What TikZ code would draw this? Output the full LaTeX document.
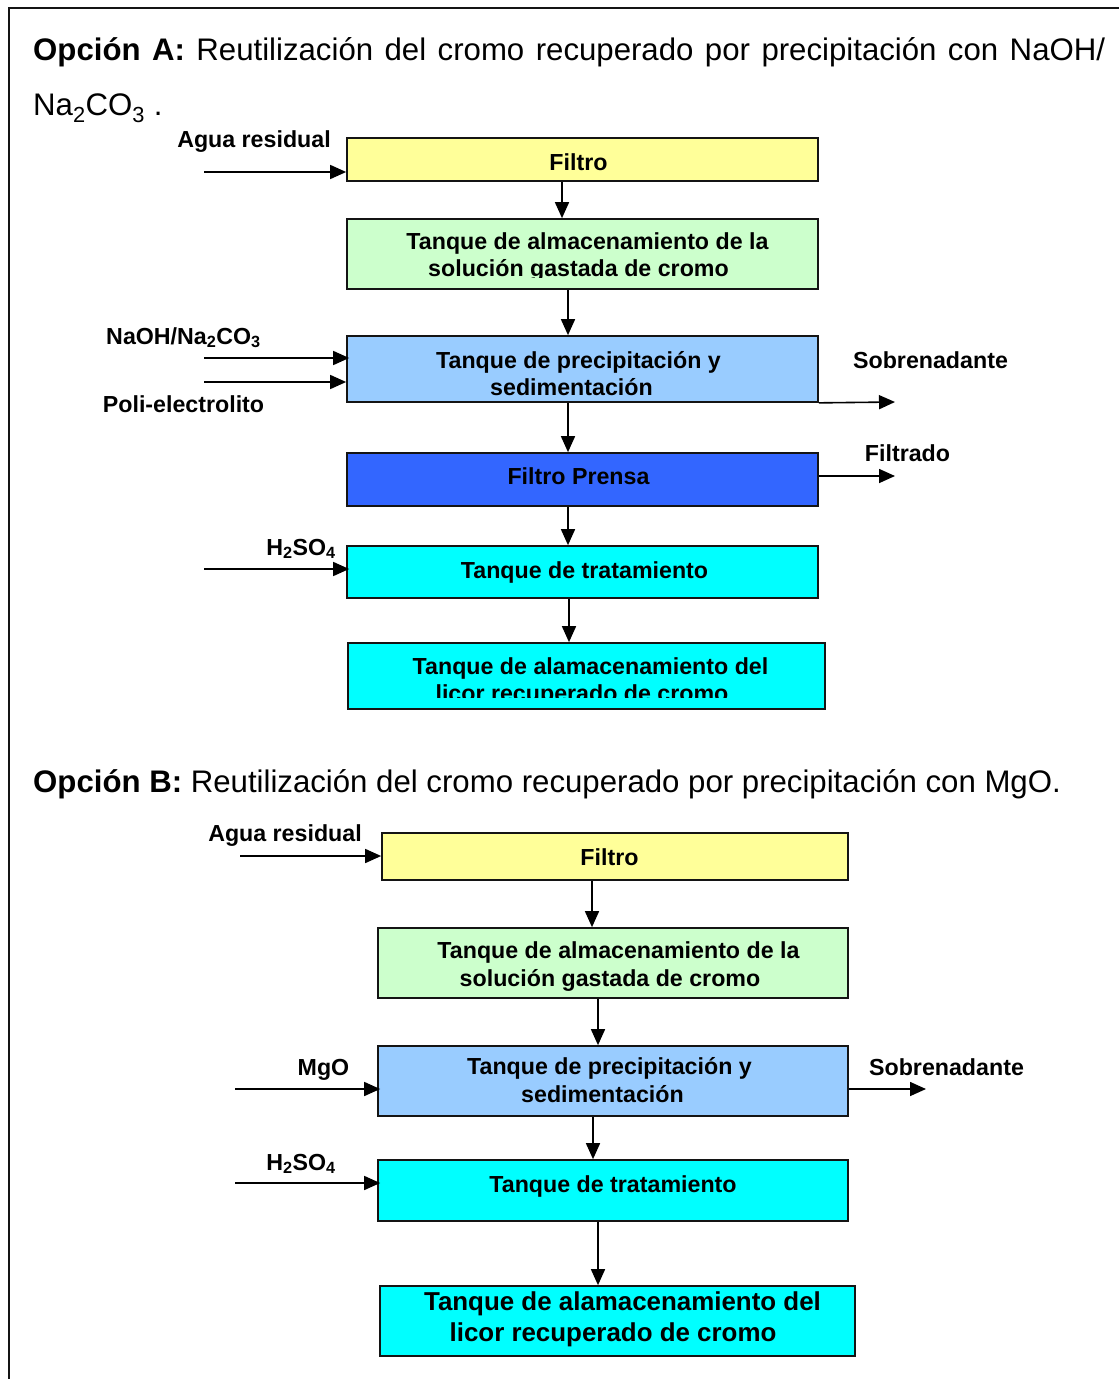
\documentclass[tikz,border=0pt]{standalone}
\usepackage{fontspec}
\setmainfont{Liberation Sans}
\usetikzlibrary{arrows.meta}

\definecolor{cYel}{HTML}{FFFF99}
\definecolor{cGrn}{HTML}{CCFFCC}
\definecolor{cSky}{HTML}{99CCFF}
\definecolor{cBlu}{HTML}{3366FF}
\definecolor{cCya}{HTML}{00FFFF}
\definecolor{cLine}{HTML}{141414}

\tikzset{
  box/.style={draw=cLine, line width=1.7bp, inner sep=0pt},
  lbl/.style={inner sep=0pt, anchor=base, font=\fontsize{23.3}{27}\selectfont\bfseries},
  big/.style={inner sep=0pt, anchor=base, font=\fontsize{26}{31}\selectfont\bfseries},
  ttl/.style={inner sep=0pt, anchor=base west, font=\fontsize{31.3}{38}\selectfont},
  arr/.style={draw=black, line width=1.6bp, -{Triangle[length=16bp,width=14bp]}},
}

\begin{document}
\begin{tikzpicture}[x=1bp,y=-1bp]
\useasboundingbox (0,0) rectangle (1119,1379);

% frame (top and left sides)
\draw[line width=2bp, cLine] (8.5,1379) -- (8.5,8.5) -- (1119,8.5);

% ---------------- Option A ----------------
\node[ttl] (tA1) at (33,61) {\hbox to 1072bp{\textbf{Opción A:} Reutilización del cromo recuperado por precipitación con NaOH/}};
\node[ttl] (tA2) at (33,116) {Na\textsubscript{2}CO\textsubscript{3} .};

\node[box, fill=cYel, minimum width=471bp, minimum height=43bp] (a1) at (582.5,159.5) {};
\node[lbl] (a1t) at (578.5,171) {Filtro};

\node[box, fill=cGrn, minimum width=471bp, minimum height=70bp] (a2) at (582.5,254) {};
\begin{scope}
  \clip (348,220) rectangle (817,277.5);
  \node[lbl] (a2t1) at (587.5,250) {Tanque de almacenamiento de la};
  \node[lbl] (a2t2) at (578.5,276.5) {solución gastada de cromo};
\end{scope}

\node[box, fill=cSky, minimum width=471bp, minimum height=66bp] (a3) at (582.5,369) {};
\node[lbl] (a3t1) at (578.5,368) {Tanque de precipitación y};
\node[lbl] (a3t2) at (571.5,395) {sedimentación};

\node[box, fill=cBlu, minimum width=471bp, minimum height=53bp] (a4) at (582.5,479.5) {};
\node[lbl] (a4t) at (578.5,484) {Filtro Prensa};

\node[box, fill=cCya, minimum width=471bp, minimum height=52bp] (a5) at (582.5,572) {};
\node[lbl] (a5t) at (584.5,578) {Tanque de tratamiento};

\node[box, fill=cCya, minimum width=477bp, minimum height=66bp] (a6) at (586.5,676) {};
\begin{scope}
  \clip (349,644) rectangle (824,697);
  \node[lbl] (a6t1) at (590.5,674) {Tanque de alamacenamiento del};
  \node[lbl] (a6t2) at (582,701) {licor recuperado de cromo};
\end{scope}

% side labels A
\node[lbl] (lAgA) at (254,148) {Agua residual};
\node[lbl] (lNa) at (183.5,344) {NaOH/Na\textsubscript{2}CO\textsubscript{3}};
\node[lbl] (lPo) at (183.5,412) {Poli-electrolito};
\node[lbl] (lSoA) at (930.5,368) {Sobrenadante};
\node[lbl] (lFi) at (907.5,461) {Filtrado};
\node[lbl] (lHA) at (301,555) {H\textsubscript{2}SO\textsubscript{4}};

% flow A
\coordinate (inAg) at (204,172);
\coordinate (inNa) at (204,358);
\coordinate (inPo) at (204,382);
\coordinate (inHA) at (204,569);
\coordinate (outSoA) at (895,402);
\coordinate (outFi) at (895,476);
\coordinate (xa12) at (562,0);
\coordinate (xa23) at (568,0);
\coordinate (xa56) at (569,0);

\draw[arr] (inAg) -- (inAg -| a1.west);
\draw[arr] (a1.south -| xa12) -- (a2.north -| xa12);
\draw[arr] (a2.south -| xa23) -- (a3.north -| xa23);
\draw[arr] (inNa) -- ([xshift=3bp]inNa -| a3.west);
\draw[arr] (inPo) -- (inPo -| a3.west);
\draw[arr] (a3.south east) -- (outSoA);
\draw[arr] (a3.south -| xa23) -- (a4.north -| xa23);
\draw[arr] (outFi -| a4.east) -- (outFi);
\draw[arr] (a4.south -| xa23) -- (a5.north -| xa23);
\draw[arr] (inHA) -- ([xshift=3bp]inHA -| a5.west);
\draw[arr] (a5.south -| xa56) -- (a6.north -| xa56);

% ---------------- Option B ----------------
\node[ttl] (tB) at (33,792) {\textbf{Opción B:} Reutilización del cromo recuperado por precipitación con MgO.};

\node[box, fill=cYel, minimum width=466bp, minimum height=47bp] (b1) at (615,856.5) {};
\node[lbl] (b1t) at (609.5,865.5) {Filtro};

\node[box, fill=cGrn, minimum width=470bp, minimum height=70bp] (b2) at (613,963) {};
\node[lbl] (b2t1) at (618.5,958) {Tanque de almacenamiento de la};
\node[lbl] (b2t2) at (610,986) {solución gastada de cromo};

\node[box, fill=cSky, minimum width=470bp, minimum height=70bp] (b3) at (613,1081) {};
\node[lbl] (b3t1) at (609.5,1074.5) {Tanque de precipitación y};
\node[lbl] (b3t2) at (602.5,1102.5) {sedimentación};

\node[box, fill=cCya, minimum width=470bp, minimum height=61bp] (b4) at (613,1190.5) {};
\node[lbl] (b4t) at (613,1192.5) {Tanque de tratamiento};

\node[box, fill=cCya, minimum width=475bp, minimum height=70bp] (b5) at (617.5,1321) {};
\node[big] (b5t1) at (622.5,1310) {Tanque de alamacenamiento del};
\node[big] (b5t2) at (613,1341) {licor recuperado de cromo};

% side labels B
\node[lbl] (lAgB) at (285,841) {Agua residual};
\node[lbl] (lMg) at (323.5,1075) {MgO};
\node[lbl] (lSoB) at (946.5,1075) {Sobrenadante};
\node[lbl] (lHB) at (301,1170) {H\textsubscript{2}SO\textsubscript{4}};

% flow B
\coordinate (inAgB) at (240,856);
\coordinate (inMg) at (235,1089);
\coordinate (inHB) at (235,1183);
\coordinate (outSoB) at (926,1089);
\coordinate (xb12) at (592,0);
\coordinate (xb23) at (598,0);
\coordinate (xb34) at (593,0);

\draw[arr] (inAgB) -- (inAgB -| b1.west);
\draw[arr] (b1.south -| xb12) -- (b2.north -| xb12);
\draw[arr] (b2.south -| xb23) -- (b3.north -| xb23);
\draw[arr] (inMg) -- ([xshift=3bp]inMg -| b3.west);
\draw[arr] (outSoB -| b3.east) -- (outSoB);
\draw[arr] (b3.south -| xb34) -- (b4.north -| xb34);
\draw[arr] (inHB) -- ([xshift=3bp]inHB -| b4.west);
\draw[arr] (b4.south -| xb23) -- (b5.north -| xb23);

\end{tikzpicture}
\end{document}
